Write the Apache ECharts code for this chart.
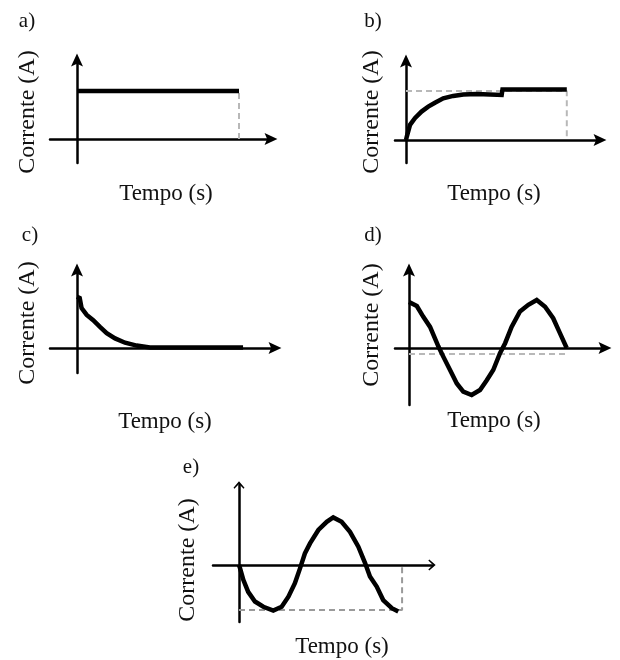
<!DOCTYPE html>
<html><head><meta charset="utf-8">
<script src="https://cdn.jsdelivr.net/npm/echarts@6/dist/echarts.min.js"></script>
<style>html,body{margin:0;padding:0;background:#fff}#c{width:620px;height:660px}</style>
</head><body><div id="c"></div>
<script>
// ---- text ----
const panelLetters = ['a)', 'b)', 'c)', 'd)', 'e)'];
const xAxisTitle = 'Tempo (s)';
const yAxisTitle = 'Corrente (A)';

// ---- a) constant current ----
const aTime = [0, 6.0];
const aCurrent = [1.0, 1.0];
const aGuideTime = [6.0, 6.0];
const aGuideCurrent = [0, 1.0];

// ---- b) rising current ----
const bTime = [0, 0.03, 0.15, 0.34, 0.58, 0.83, 1.08, 1.39, 1.76, 2.14, 2.64, 3.57, 3.6, 6.0];
const bCurrent = [0, 0.07, 0.31, 0.45, 0.58, 0.68, 0.76, 0.85, 0.90, 0.93, 0.94, 0.92, 1.03, 1.03];
const bGuideTime = [0, 6.0, 6.0];
const bGuideCurrent = [1.0, 1.0, 0];

// ---- c) decaying current ----
const cTime = [0, 0.1, 0.17, 0.36, 0.6, 0.85, 1.1, 1.41, 1.78, 2.21, 2.7, 6.15];
const cCurrent = [1.07, 1.04, 0.83, 0.69, 0.58, 0.44, 0.31, 0.20, 0.11, 0.05, 0.01, 0.01];

// ---- d) oscillating current (cosine-like) ----
const dTime = [0, 0.29, 0.53, 0.78, 1.09, 1.27, 1.52, 1.77, 2.01, 2.32, 2.63, 2.88, 3.12, 3.37, 3.56, 3.80, 4.11, 4.42, 4.73, 5.04, 5.34, 5.59, 5.84];
const dCurrent = [0.96, 0.875, 0.65, 0.44, 0.03, -0.18, -0.46, -0.74, -0.91, -0.98, -0.875, -0.67, -0.46, -0.11, 0.10, 0.44, 0.76, 0.90, 1.0, 0.86, 0.62, 0.31, 0.0];
const dGuideTime = [0, 5.84];
const dGuideCurrent = [-0.125, -0.125];

// ---- e) oscillating current (negative sine-like) ----
const eTime = [0, 0.04, 0.16, 0.34, 0.59, 0.9, 1.27, 1.58, 1.83, 2.07, 2.26, 2.44, 2.63, 2.94, 3.25, 3.49, 3.80, 4.11, 4.42, 4.67, 4.85, 5.1, 5.34, 5.66, 5.9];
const eCurrent = [0, -0.07, -0.31, -0.56, -0.76, -0.87, -0.95, -0.87, -0.66, -0.38, -0.07, 0.24, 0.45, 0.73, 0.90, 0.99, 0.90, 0.69, 0.38, 0.04, -0.24, -0.45, -0.73, -0.90, -0.97];
const eGuideTime = [0, 6.04, 6.04];
const eGuideCurrent = [-0.94, -0.94, 0];

// ---- layout (pixels) ----
const layouts = [
  {ox: 77,  oy: 139, x0: 50,  x1: 271, y0: 163, y1: 60,  ux: 27,   uy: 48, letter: [27, 21],  yt: [28, 112],  xt: [166, 194]},
  {ox: 406, oy: 140, x0: 395, x1: 600, y0: 163, y1: 61,  ux: 26.8, uy: 49, letter: [373, 21], yt: [372, 112], xt: [494, 194]},
  {ox: 77,  oy: 348, x0: 50,  x1: 275, y0: 373, y1: 270, ux: 27,   uy: 48, letter: [30, 235], yt: [28, 323],  xt: [165, 422]},
  {ox: 409, oy: 348, x0: 395, x1: 605, y0: 405, y1: 270, ux: 27,   uy: 48, letter: [373, 235], yt: [372, 325], xt: [494, 421]},
  {ox: 239, oy: 565, x0: 213, x1: 432, y0: 622, y1: 485, ux: 27,   uy: 48, letter: [191, 467], yt: [188, 560], xt: [342, 647]}
];

const curves = [
  {t: aTime, v: aCurrent, gt: aGuideTime, gv: aGuideCurrent},
  {t: bTime, v: bCurrent, gt: bGuideTime, gv: bGuideCurrent},
  {t: cTime, v: cCurrent, gt: null, gv: null},
  {t: dTime, v: dCurrent, gt: dGuideTime, gv: dGuideCurrent},
  {t: eTime, v: eCurrent, gt: eGuideTime, gv: eGuideCurrent}
];

const FONT = "'Liberation Serif', 'Times New Roman', serif";
const solidArrow = 'path://M0,0 L7,15 L0,12 L-7,15 Z';
const openArrow = 'path://M0,0 L6,7 L5,8 L0,3 L-5,8 L-6,7 Z';

const grid = [], xAxis = [], yAxis = [], series = [], graphic = [];
layouts.forEach((L, i) => {
  grid.push({left: L.x0, top: L.y1, width: L.x1 - L.x0, height: L.y0 - L.y1, containLabel: false});
  const arrow = i === 4 ? openArrow : solidArrow;
  const arrowSize = i === 4 ? [11, 12] : [12, 15];
  const axisCommon = {
    type: 'value', gridIndex: i,
    axisLine: {show: true, onZero: true, symbol: ['none', arrow], symbolSize: arrowSize,
      lineStyle: {color: '#000', width: 2.5}},
    axisTick: {show: false}, axisLabel: {show: false}, splitLine: {show: false}
  };
  xAxis.push(Object.assign({}, axisCommon, {
    min: -(L.ox - L.x0) / L.ux, max: (L.x1 - L.ox) / L.ux
  }));
  yAxis.push(Object.assign({}, axisCommon, {
    min: -(L.y0 - L.oy) / L.uy, max: (L.oy - L.y1) / L.uy
  }));
  const c = curves[i];
  if (c.gt) {
    series.push({
      type: 'line', xAxisIndex: i, yAxisIndex: i, symbol: 'none', silent: true, z: 1,
      data: c.gt.map((t, k) => [t, c.gv[k]]),
      lineStyle: {color: i === 4 ? '#9a9a9a' : '#b8b8b8', width: 2, type: [6, 4]}
    });
  }
  series.push({
    type: 'line', xAxisIndex: i, yAxisIndex: i, symbol: 'none', silent: true, z: 3, clip: false,
    data: c.t.map((t, k) => [t, c.v[k]]),
    lineStyle: {color: '#000', width: 4.5, join: 'miter'}
  });
  const txt = (p, s, size, rot) => ({
    type: 'text', x: p[0], y: p[1], rotation: rot || 0, silent: true,
    style: {text: s, fontFamily: FONT, fontSize: size, fill: '#111', align: 'center', verticalAlign: 'middle'}
  });
  graphic.push(txt(L.letter, panelLetters[i], 21));
  graphic.push(txt(L.xt, xAxisTitle, 23));
  graphic.push(txt(L.yt, yAxisTitle, 24, Math.PI / 2));
});

const chart = echarts.init(document.getElementById('c'));
chart.setOption({
  backgroundColor: '#fff',
  animation: false,
  grid, xAxis, yAxis, series, graphic
});
</script>
</body></html>
